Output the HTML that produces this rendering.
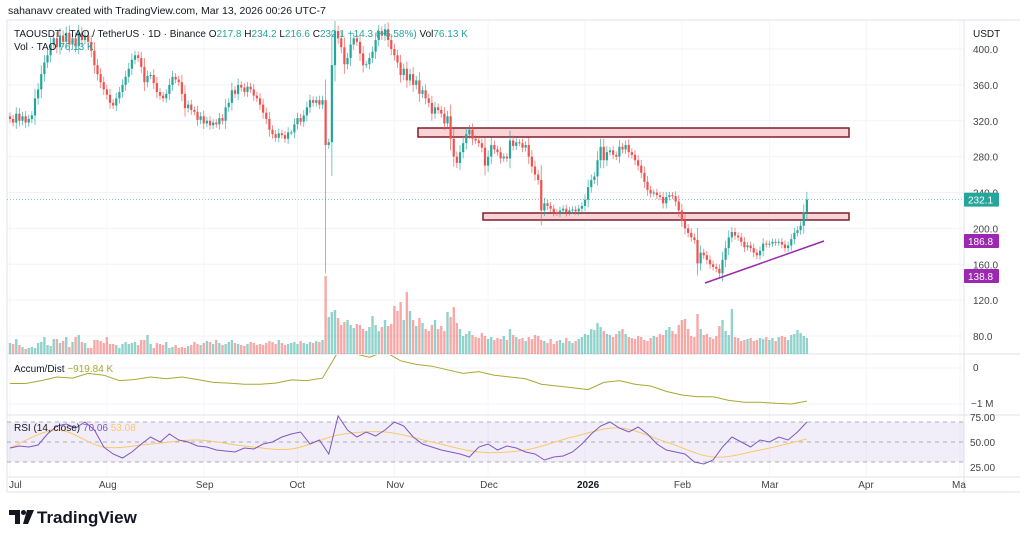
<!DOCTYPE html>
<html><head><meta charset="utf-8">
<style>
body{margin:0;background:#fff;width:1024px;height:539px;overflow:hidden;font-family:"Liberation Sans",sans-serif;}
svg{position:absolute;left:0;top:0}
</style></head><body>
<svg id="c" width="1024" height="539" xmlns="http://www.w3.org/2000/svg"></svg>
<script>
const closes=[322,318,328,320,325,318,322,326,345,355,
372,385,393,405,412,402,415,408,418,405,
412,403,418,410,415,408,398,382,372,363,
355,349,340,337,345,352,360,369,378,388,
393,390,380,363,370,371,362,352,348,345,
350,360,369,366,363,350,334,338,332,330,
321,325,317,320,315,318,316,323,320,335,
340,354,350,360,357,352,358,355,348,345,
338,329,322,310,305,301,306,304,300,307,
307,316,323,319,326,335,343,340,343,338,
343,293,296,382,420,412,402,383,390,405,
412,408,395,382,383,390,397,410,420,415,
422,410,400,393,385,371,378,365,372,360,
365,350,354,345,340,328,335,332,328,317,
325,300,280,273,285,295,305,310,300,298,
295,290,270,280,293,288,285,278,280,278,
298,292,296,295,290,293,280,269,260,254,
220,228,225,222,218,217,220,222,218,220,
221,219,222,225,232,246,254,258,276,291,
276,285,287,282,280,291,288,293,285,282,
276,270,262,252,243,239,240,237,235,228,
235,237,236,230,220,209,200,195,190,187,
161,173,170,165,160,157,155,150,165,178,
190,196,192,190,185,179,181,178,173,170,
175,183,182,183,185,184,185,182,178,181,
188,195,198,203,217.8,232.1];
const volumes=[110,100,150,90,70,50,60,70,60,110,
120,170,90,80,150,150,110,130,170,70,
120,170,190,120,110,60,60,140,140,130,
110,170,100,100,90,60,100,120,100,110,
120,90,140,140,190,100,60,110,100,90,
120,60,70,90,60,70,60,80,90,120,
100,90,110,130,120,100,140,110,90,100,
120,140,110,100,90,80,100,120,110,90,
100,90,110,130,120,100,140,110,90,100,
110,120,100,130,110,100,120,110,130,120,
140,780,370,420,440,360,290,320,340,290,
260,300,290,250,230,270,380,290,230,270,
340,280,300,480,430,520,340,620,430,340,
280,360,310,250,230,290,340,250,280,230,
420,370,470,310,250,180,200,230,190,170,
160,210,180,150,170,140,160,150,180,140,
250,190,170,150,160,130,170,150,190,180,
140,130,110,150,100,130,140,110,160,130,
110,130,150,170,200,190,250,240,310,270,
230,200,190,170,200,230,250,200,170,160,
150,180,170,140,130,160,180,170,200,190,
240,270,230,200,290,340,350,250,180,170,
400,250,190,200,170,150,180,280,340,230,
190,450,170,160,130,140,150,160,130,140,
160,150,170,140,160,130,170,180,170,140,
190,200,240,210,180,160];
const adDays=[0,5,10,15,20,25,30,35,40,45,50,55,60,65,70,75,80,85,90,95,100,105,110,115,120,125,130,135,140,145,150,155,160,165,170,175,180,185,190,195,200,205,210,215,220,225,230,235,240,245,250,255];
const adValues=[-0.43,-0.43,-0.35,-0.25,-0.28,-0.15,-0.2,-0.35,-0.32,-0.25,-0.3,-0.25,-0.32,-0.4,-0.42,-0.45,-0.45,-0.42,-0.33,-0.35,-0.28,0.45,0.4,0.3,0.45,0.2,0.1,0.05,-0.05,-0.15,-0.1,-0.2,-0.25,-0.3,-0.45,-0.5,-0.55,-0.6,-0.4,-0.35,-0.45,-0.5,-0.65,-0.75,-0.8,-0.8,-0.9,-0.95,-0.95,-0.98,-1.0,-0.92];
const rsiValues=[44,46,45,47,58,66,68,64,70,62,
45,38,34,40,48,55,50,58,52,50,
46,45,42,41,40,44,43,48,50,55,
58,60,48,52,38,76,62,55,60,56,
62,70,66,55,48,45,42,40,38,35,
45,48,42,46,44,40,38,32,35,36,
40,48,58,66,70,64,60,65,58,48,
42,40,38,30,28,32,45,55,50,45,
52,50,55,52,60,70];
const rsiSignal=[44,62,45,48,52,46,43,57,60,50,40,42,55,64,50,35,42,53];
const priceTicks=[400,360,320,280,240,200,160,120,80];
const monthLabels=["Jul","Aug","Sep","Oct","Nov","Dec","2026","Feb","Mar","Apr","Ma"];
const monthDays=[0,31,62,92,123,153,184,215,243,274,304];

const NS="http://www.w3.org/2000/svg";
const svg=document.getElementById('c');
function el(tag,attrs,parent){const e=document.createElementNS(NS,tag);for(const k in attrs)e.setAttribute(k,attrs[k]);(parent||svg).appendChild(e);return e;}
const xDay=d=>10+d*3.125;
const yPrice=p=>49+(400-p)*0.897;
const yVol=v=>354-v*0.1;
const yAD=v=>368-v*36;
const yRSI=r=>442-(r-50)*1.0;

const grid=el('g',{});
priceTicks.forEach(p=>{el('line',{x1:7,x2:964,y1:yPrice(p),y2:yPrice(p),stroke:'#f0f3fa'},grid);});
[0,-1].forEach(v=>el('line',{x1:7,x2:964,y1:yAD(v),y2:yAD(v),stroke:'#f0f3fa'},grid));
monthDays.forEach(d=>{el('line',{x1:xDay(d),x2:xDay(d),y1:20,y2:477,stroke:'#f4f6fb'},grid);});
[[7,20,1020,20],[7,477,1020,477],[7,492,1020,492],[964,20,964,492],[7,354,1020,354],[7,415,1020,415],[7,20,7,492]].forEach(a=>{el('line',{x1:a[0],y1:a[1],x2:a[2],y2:a[3],stroke:'#e0e3eb'});});

const vg=el('g',{});
volumes.forEach((v,i)=>{const o=i?closes[i-1]:closes[0];const up=closes[i]>=o;
const r=el('rect',{x:xDay(i)-1.2,y:yVol(v),width:2.4,height:354-yVol(v),fill:up?'rgba(38,166,154,0.5)':'rgba(239,83,80,0.5)'},vg);
});

const z1=el('rect',{x:418,y:128,width:431,height:9,fill:'#f9d3d6',stroke:'#7d1f2a','stroke-width':1.5});

const z2=el('rect',{x:483,y:213,width:366,height:7,fill:'#f9d3d6',stroke:'#7d1f2a','stroke-width':1.5});


const defs=el('defs',{});
const cp=el('clipPath',{id:'adclip'},defs);el('rect',{x:7,y:355,width:957,height:60},cp);
const cp2=el('clipPath',{id:'pclip'},defs);el('rect',{x:7,y:21,width:957,height:333},cp2);

const cg=el('g',{'clip-path':'url(#pclip)'});
closes.forEach((c,i)=>{const o=i?closes[i-1]:closes[0]+3;const up=c>=o;const col=up?'#26a69a':'#ef5350';
const hi=Math.max(o,c)+Math.max(2,Math.abs(c-o)*0.4+3), lo=Math.min(o,c)-Math.max(2,Math.abs(c-o)*0.4+3);
const x=xDay(i);
el('line',{x1:x,x2:x,y1:yPrice(hi),y2:yPrice(i==101?150:lo),stroke:col,'stroke-width':0.8,opacity:0.8},cg);
const t=Math.min(yPrice(o),yPrice(c));const h=Math.max(1,Math.abs(yPrice(o)-yPrice(c)));
const b=el('rect',{x:x-1.1,y:t,width:2.2,height:h,fill:col},cg);
});

const tl=el('line',{x1:705,y1:283,x2:824,y2:241,stroke:'#9c27b0','stroke-width':1.5});

const last=closes[closes.length-1];
el('line',{x1:7,x2:964,y1:yPrice(last),y2:yPrice(last),stroke:'#26a69a','stroke-dasharray':'1 2','stroke-width':0.8,opacity:0.7});

const adp=adDays.map((d,i)=>(i?'L':'M')+xDay(d).toFixed(1)+','+yAD(adValues[i]).toFixed(1)).join('');
const ad=el('path',{d:adp,fill:'none',stroke:'#a8a834','stroke-width':1,'clip-path':'url(#adclip)'});


const rb=el('rect',{x:7,y:yRSI(70),width:957,height:yRSI(30)-yRSI(70),fill:'rgba(126,87,194,0.1)'});

[70,50,30].forEach(r=>el('line',{x1:7,x2:964,y1:yRSI(r),y2:yRSI(r),stroke:'#9598a1','stroke-dasharray':'4 4','stroke-width':0.8}));
function smooth(pts){let d='M'+pts[0][0]+','+pts[0][1];for(let i=0;i<pts.length-1;i++){const p0=pts[i-1]||pts[i],p1=pts[i],p2=pts[i+1],p3=pts[i+2]||p2;
d+='C'+(p1[0]+(p2[0]-p0[0])/6)+','+(p1[1]+(p2[1]-p0[1])/6)+' '+(p2[0]-(p3[0]-p1[0])/6)+','+(p2[1]-(p3[1]-p1[1])/6)+' '+p2[0]+','+p2[1];}return d;}
const sig=el('path',{d:smooth(rsiSignal.map((r,i)=>[xDay(Math.min(i*15,255)),yRSI(r)])),fill:'none',stroke:'#f7c96b','stroke-width':1});

const rl=el('path',{d:rsiValues.map((r,i)=>(i?'L':'M')+xDay(Math.min(i*3,255)).toFixed(1)+','+yRSI(r).toFixed(1)).join(''),fill:'none',stroke:'#7e57c2','stroke-width':1});


function txt(x,y,s,attrs,name){const t=el('text',Object.assign({x:x,y:y,'font-size':10,fill:'#131722'},attrs||{}));t.textContent=s;return t;}
priceTicks.forEach(p=>txt(973,yPrice(p)+4,p.toFixed(1),{fill:'#444'},'price-tick'));
txt(973,37,'USDT',{fill:'#131722'},'currency-label');
txt(973,371,'0',{fill:'#444'},'ad-tick');txt(971,407,'−1 M',{fill:'#444'},'ad-tick');
txt(970,421,'75.00',{fill:'#444'},'rsi-tick');txt(970,446,'50.00',{fill:'#444'},'rsi-tick');txt(970,471,'25.00',{fill:'#444'},'rsi-tick');
monthLabels.forEach((m,i)=>txt(xDay(monthDays[i])-(i==0?1:8),488,m,m=='2026'?{'font-weight':'bold'}:{fill:'#444'},'time-tick'));
function badge(y,s,col,name){const r=el('rect',{x:964,y:y-7,width:35,height:14,fill:col,rx:1});txt(968,y+4,s,{fill:'#fff'},name+'-text');}
badge(yPrice(last),last.toFixed(1),'#26a69a','last-price-badge');
badge(241,'186.8','#9c27b0','trendline-end-badge');
badge(276,'138.8','#9c27b0','trendline-start-badge');

txt(8,14,'sahanavv created with TradingView.com, Mar 13, 2026 00:26 UTC-7',{'font-size':10.5},'author-caption');
const lg=txt(14,37,'',{'font-size':10},'symbol-legend');
[['TAOUSDT · TAO / TetherUS · 1D · Binance  ','#131722'],['O','#131722'],['217.8  ','#26a69a'],['H','#131722'],['234.2  ','#26a69a'],['L','#131722'],['216.6  ','#26a69a'],['C','#131722'],['232.1  +14.3 (+6.58%)  ','#26a69a'],['Vol','#131722'],['76.13 K','#26a69a']].forEach(a=>{const s=el('tspan',{fill:a[1]},lg);s.textContent=a[0];});
const vl=txt(14,50,'',{'font-size':10},'volume-legend');
[['Vol · TAO ','#131722'],['76.13 K','#26a69a']].forEach(a=>{const s=el('tspan',{fill:a[1]},vl);s.textContent=a[0];});
const al=txt(14,372,'',{'font-size':10},'ad-legend');
[['Accum/Dist  ','#131722'],['−919.84 K','#a8a834']].forEach(a=>{const s=el('tspan',{fill:a[1]},al);s.textContent=a[0];});
const rl2=txt(14,431,'',{'font-size':10},'rsi-legend');
[['RSI (14, close)  ','#131722'],['70.06  ','#7e57c2'],['53.08','#f7c96b']].forEach(a=>{const s=el('tspan',{fill:a[1]},rl2);s.textContent=a[0];});

const lgG=el('g',{});
el('path',{d:'M9 510h11v14h-5v-9h-6z',fill:'#131722'},lgG);
el('circle',{cx:23.5,cy:512.5,r:2.5,fill:'#131722'},lgG);
el('path',{d:'M27 510h7l-6 14h-5z',fill:'#131722'},lgG);
const tv=el('text',{x:37,y:523,'font-size':17,'font-weight':'bold',fill:'#131722'},lgG);tv.textContent='TradingView';
</script>
</body></html>
